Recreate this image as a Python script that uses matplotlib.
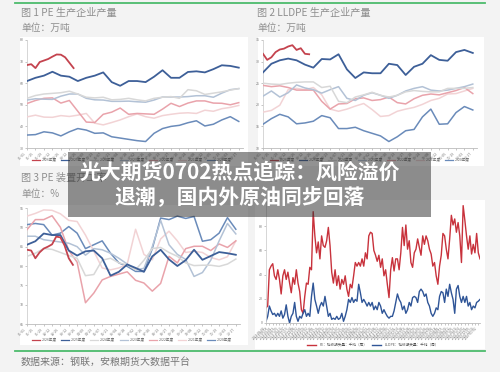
import numpy as np
import pandas as pd
import matplotlib
matplotlib.use('Agg')
import matplotlib.pyplot as plt
from matplotlib.patches import Rectangle
from matplotlib.lines import Line2D

plt.rcParams['font.family'] = ['Noto Sans CJK SC', 'DejaVu Sans']

# ---- data ----
years = ['2026年度', '2025年度', '2024年度', '2023年度', '2022年度', '2021年度', '2020年度']
year_colors = ['#c4434e', '#3d5f98', '#d8d8d8', '#b3c2d6', '#e9a3ab', '#f2d3d5', '#6a8bba']

weeks_full = list(range(1, 53, 2))      # biweekly points for full years
weeks_2026 = list(range(1, 13))          # 2026 weekly so far
week_labels = list(pd.date_range('2026-01-01', periods=26, freq='14D').strftime('%m-%d'))

# 图1 PE 生产企业产量 (万吨)
pe_out_2026 = [68.4, 68.8, 67.0, 69.8, 70.5, 71.2, 72.3, 73.3, 73.2, 72.0, 69.5, 67.0]
pe_out_2025 = [61.0, 62.5, 63.5, 65.3, 63.5, 63.0, 61.0, 62.5, 63.5, 65.0, 60.5, 58.8, 61.0,
               61.0, 60.5, 63.0, 66.0, 62.5, 62.5, 65.2, 65.5, 65.0, 66.5, 68.3, 68.0, 67.2]
pe_out_2024 = [53.0, 54.3, 55.0, 55.3, 55.6, 56.3, 55.0, 53.5, 53.2, 53.5, 52.3, 52.5, 53.0,
               52.3, 51.8, 53.0, 53.5, 53.8, 53.0, 57.0, 56.5, 54.8, 55.4, 56.0, 56.8, 57.5]
pe_out_2023 = [52.2, 52.8, 52.6, 52.5, 54.0, 55.0, 55.0, 53.0, 52.3, 52.2, 51.6, 51.6, 51.7,
               51.4, 51.2, 52.2, 53.6, 53.6, 53.6, 53.8, 54.2, 54.2, 53.5, 55.4, 57.0, 57.5]
pe_out_2022 = [50.6, 52.0, 53.0, 53.2, 50.8, 52.0, 47.0, 42.0, 41.8, 45.6, 46.6, 48.5, 45.6,
               46.0, 45.8, 45.6, 48.0, 50.7, 49.2, 50.8, 51.8, 51.8, 50.8, 50.7, 50.0, 51.0]
pe_out_2021 = [44.4, 45.2, 44.3, 44.2, 45.0, 44.6, 45.2, 46.0, 41.5, 40.7, 41.8, 43.0, 44.5,
               45.8, 44.5, 43.8, 45.0, 45.6, 46.1, 46.3, 46.0, 47.5, 47.0, 48.2, 48.8, 49.7]
pe_out_2020 = [36.0, 36.2, 37.5, 37.0, 35.6, 37.5, 39.0, 38.3, 36.8, 37.0, 35.2, 34.6, 34.0,
               33.4, 33.0, 36.8, 39.0, 40.0, 40.5, 41.7, 42.6, 40.2, 41.0, 43.0, 44.5, 42.3]

# 图2 LLDPE 生产企业产量 (万吨)
ll_out_2026 = [31.8, 30.4, 31.0, 32.2, 32.8, 33.0, 33.5, 33.8, 32.7, 33.1, 31.8, 31.7]
ll_out_2025 = [27.5, 29.5, 30.3, 30.7, 30.3, 29.3, 28.6, 30.6, 30.5, 31.7, 28.2, 26.2, 27.5,
               27.3, 27.3, 29.5, 29.2, 26.9, 28.8, 29.5, 31.5, 30.4, 30.2, 32.2, 32.7, 32.0]
ll_out_2024 = [25.0, 24.8, 24.7, 25.0, 25.2, 25.3, 25.3, 24.0, 24.3, 20.8, 20.5, 21.8, 22.3,
               22.9, 22.2, 21.8, 22.2, 23.0, 23.3, 23.1, 23.0, 23.0, 23.8, 23.8, 23.8, 24.0]
ll_out_2023 = [22.0, 23.2, 21.8, 22.8, 24.6, 23.9, 23.5, 22.7, 23.5, 24.2, 21.5, 21.0, 22.2,
               22.8, 22.2, 21.5, 22.2, 23.2, 23.8, 24.2, 23.4, 23.2, 23.4, 23.8, 24.2, 24.8]
ll_out_2022 = [24.5, 24.2, 24.4, 24.0, 23.4, 23.4, 23.4, 20.8, 19.0, 20.2, 20.3, 21.4, 21.6,
               21.0, 21.2, 21.8, 20.5, 20.2, 21.4, 22.2, 22.5, 22.3, 22.8, 23.3, 24.0, 22.6]
ll_out_2021 = [18.3, 18.7, 19.9, 23.5, 23.8, 23.5, 24.0, 22.3, 19.0, 18.5, 19.0, 19.7, 20.3,
               18.9, 17.3, 17.5, 18.5, 19.0, 19.4, 20.1, 21.0, 21.5, 22.5, 22.6, 23.2, 23.8]
ll_out_2020 = [15.5, 16.8, 17.8, 17.2, 15.6, 15.8, 16.2, 17.5, 17.0, 14.5, 14.5, 14.8, 14.0,
               13.4, 12.8, 11.5, 12.6, 14.0, 14.3, 17.2, 19.0, 15.5, 15.6, 18.2, 19.6, 18.8]

# 图3 PE 装置开工率 (%)
pe_run_2026 = [84.2, 84.0, 82.0, 83.5, 84.5, 85.0, 85.6, 87.6, 87.4, 85.3, 82.0, 80.3]
pe_run_2025 = [85.5, 86.4, 88.4, 88.0, 88.0, 84.0, 82.7, 83.8, 84.0, 82.0, 77.5, 78.5, 80.4,
               79.5, 78.5, 82.5, 84.2, 81.7, 80.0, 81.5, 84.2, 81.6, 82.6, 83.6, 83.3, 82.9]
pe_run_2024 = [82.5, 83.3, 84.5, 84.3, 83.5, 82.7, 82.0, 77.5, 77.8, 81.5, 82.0, 80.8, 80.3,
               79.0, 81.5, 84.5, 84.8, 83.5, 82.5, 80.8, 80.1, 80.2, 80.2, 79.9, 80.5, 81.8]
pe_run_2023 = [87.7, 87.7, 86.8, 86.5, 86.2, 85.9, 85.0, 82.8, 84.5, 84.2, 83.3, 82.0, 80.5,
               79.0, 79.4, 85.0, 91.8, 85.5, 83.0, 81.7, 77.3, 78.3, 81.5, 86.5, 91.0, 88.3]
pe_run_2022 = [89.4, 92.0, 92.0, 93.0, 90.0, 84.0, 81.0, 70.5, 73.0, 76.4, 77.3, 77.9, 78.5,
               76.3, 75.6, 73.5, 75.5, 82.5, 80.8, 84.5, 85.1, 85.1, 84.0, 85.7, 84.8, 86.5]
pe_run_2021 = [92.9, 93.6, 94.5, 94.4, 93.5, 91.8, 91.5, 88.0, 83.8, 79.5, 79.0, 79.5, 80.5,
               89.5, 83.0, 81.6, 87.0, 89.0, 86.5, 83.5, 83.8, 83.5, 82.2, 81.6, 82.4, 86.5]
pe_run_2020 = [90.7, 91.0, 90.7, 88.0, 88.5, 90.2, 88.5, 84.5, 85.5, 86.5, 83.3, 80.8, 79.9,
               78.6, 78.6, 84.5, 92.4, 92.0, 92.9, 92.3, 92.8, 86.4, 86.8, 88.5, 92.5, 89.5]

# 图4 检修损失量 (千吨/周)
loss_dates = pd.date_range('2023-08-04', periods=128, freq='7D')
pe_loss = [12.5, 14, 44, 47, 49, 39, 36, 44, 36, 24, 39, 44, 36, 42, 33, 25,
           37.5, 32, 44, 33, 26, 11, 8, 22, 33, 32, 46, 44, 92, 72, 58, 67,
           53, 72, 64, 62.5, 68, 79, 64, 42, 33, 44, 31, 39, 28, 36, 32, 39,
           28, 22, 32, 29, 39, 50, 47, 50, 47, 53, 47, 58, 53, 72, 75, 74,
           60, 56, 51, 56, 46, 53, 39, 44, 32, 21, 44, 54, 43, 53, 53, 44,
           58, 79, 64, 81, 61, 68, 50, 46, 58, 61, 69.5, 62.5, 56, 72, 65, 72,
           68, 61, 57, 47, 50, 39, 32, 47, 56, 74, 72, 61, 53, 69.5, 89, 81,
           86, 75, 83, 72, 50, 97, 85, 72, 61, 72, 57, 65, 58, 74, 58, 53]
lldpe_loss = [1.4, 5.5, 14, 10, 7, 8, 5.5, 8, 5.5, 10, 4, 7, 15, 5.5, 0, 5.5,
              8, 17, 5.5, 1.4, 5.5, 4, 8, 11, 5.5, 8, 5.5, 22, 33, 19.5, 14, 8,
              14, 17, 14, 22, 14, 5.5, 8, 3, 4, 3, 5.5, 3, 4, 8, 1.4, 5.5,
              11, 19.5, 17, 21, 17, 19.5, 18, 32, 25, 17, 19.5, 17, 14, 17, 14, 17,
              11, 14, 11, 17, 14, 8, 11, 8, 5.5, 4, 5.5, 5.5, 10, 17, 24, 19.5,
              17, 11, 14, 8, 11, 17, 14, 21, 22, 21, 17, 26, 28, 26, 22, 24,
              17, 14, 8, 5.5, 8, 12.5, 11, 22, 26, 25, 17, 28, 22, 32, 25, 19.5,
              8, 28, 31, 22, 17, 22, 17, 22, 14, 17, 11, 14, 12.5, 17, 18, 19.5]

W, H = 500, 372
fig = plt.figure(figsize=(W / 100, H / 100), dpi=100, facecolor='#f3f3f3')


def fbox(l, t, r, b):
    return [l / W, 1 - b / H, (r - l) / W, (b - t) / H]


def white(l, t, r, b):
    fig.patches.append(Rectangle((l / W, 1 - b / H), (r - l) / W, (b - t) / H,
                                 transform=fig.transFigure, facecolor='white',
                                 edgecolor='none', zorder=-1))


def style(ax):
    ax.set_facecolor('none')
    for s in ['top', 'right']:
        ax.spines[s].set_visible(False)
    ax.spines['left'].set_color('#d0d0d0')
    ax.spines['bottom'].set_color('#bbbbbb')
    ax.spines['left'].set_linewidth(0.6)
    ax.spines['bottom'].set_linewidth(0.6)
    ax.tick_params(axis='both', labelsize=2.6, colors='#999999', length=1.2, width=0.4,
                   pad=1, labelcolor='#777777')


def year_panel(box, series_full, s2026, ylim, yticks):
    ax = fig.add_axes(fbox(*box))
    style(ax)
    for i, (name, col) in enumerate(zip(years, year_colors)):
        if i == 0:
            ax.plot(weeks_2026, s2026, color=col, lw=1.3, zorder=10)
        else:
            lw = 1.3 if i == 1 else 1.1
            ax.plot(weeks_full, series_full[i - 1], color=col, lw=lw, zorder=10 - i)
    ax.set_xlim(1, 52)
    ax.set_ylim(*ylim)
    ax.set_yticks(yticks)
    ax.set_xticks(weeks_full)
    ax.set_xticklabels(week_labels, rotation=45, ha='right', fontsize=2.6)
    return ax


def year_legend(x, y):
    handles = [Line2D([], [], color=c, lw=0.9) for c in year_colors]
    fig.legend(handles, years, loc='center', bbox_to_anchor=(x / W, 1 - y / H), ncol=7,
               fontsize=2.6, frameon=False, handlelength=2.2, columnspacing=1.2,
               handletextpad=0.5, labelcolor='#666666')


# panel backgrounds
white(20, 37, 248, 166)
white(258, 37, 484, 166)
white(20, 205, 248, 345)
white(255, 200, 485, 349)

# green rules
fig.add_artist(Line2D([15 / W, 485 / W], [1 - 3 / H, 1 - 3 / H], color='#4cbb6c', lw=1.3))
fig.add_artist(Line2D([15 / W, 485 / W], [1 - 351 / H, 1 - 351 / H], color='#4cbb6c', lw=1.3))

# titles
tkw = dict(color='#8f8f8f', va='center', ha='left')
fig.text(21 / W, 1 - 13 / H, '图 1 PE 生产企业产量', fontsize=7.3, **tkw)
fig.text(21 / W, 1 - 28 / H, '单位：万吨', fontsize=7, **tkw)
fig.text(257 / W, 1 - 13 / H, '图 2 LLDPE 生产企业产量', fontsize=7.3, **tkw)
fig.text(257 / W, 1 - 28 / H, '单位：万吨', fontsize=7, **tkw)
fig.text(21 / W, 1 - 178 / H, '图 3 PE 装置开工率', fontsize=7.3, **tkw)
fig.text(21 / W, 1 - 194 / H, '单位：%', fontsize=7, **tkw)
fig.text(21 / W, 1 - 362 / H, '数据来源：钢联，安粮期货大数据平台', fontsize=7.2,
         color='#777777', va='center', ha='left')

# panel 1
year_panel((27, 40, 243, 148),
           [pe_out_2025, pe_out_2024, pe_out_2023, pe_out_2022, pe_out_2021, pe_out_2020],
           pe_out_2026, (30, 80), [30, 40, 50, 60, 70, 80])
year_legend(132, 160)

# panel 2
year_panel((263, 40, 477, 148),
           [ll_out_2025, ll_out_2024, ll_out_2023, ll_out_2022, ll_out_2021, ll_out_2020],
           ll_out_2026, (10, 35), [10, 15, 20, 25, 30, 35])
year_legend(370, 160)

# panel 3
year_panel((27, 208, 240, 324),
           [pe_run_2025, pe_run_2024, pe_run_2023, pe_run_2022, pe_run_2021, pe_run_2020],
           pe_run_2026, (65, 95), [65, 70, 75, 80, 85, 90, 95])
year_legend(132, 340)

# panel 4
ax4 = fig.add_axes(fbox(266, 202, 480, 323))
style(ax4)
idx = np.arange(len(pe_loss))
ax4.plot(idx, pe_loss, color='#c8323c', lw=1.0, label='PE：检修损失量：千吨（周）')
ax4.plot(idx, lldpe_loss, color='#2f5597', lw=1.0, label='LLDPE：检修损失量：千吨（周）')
ax4.set_xlim(0, len(pe_loss) - 1)
ax4.set_ylim(0, 100)
ax4.set_yticks([0, 20, 40, 60, 80])
ax4.set_xticks(idx[::2])
ax4.set_xticklabels(loss_dates[::2].strftime('%Y-%m-%d'), rotation=45, ha='right', fontsize=2.3)
ax4.legend(loc='center', bbox_to_anchor=(0.5, (1 - 345 / H - (1 - 323 / H)) / (121 / H)),
           ncol=2, fontsize=2.6, frameon=False, handlelength=2.5, columnspacing=1.5,
           labelcolor='#555555')

# headline overlay
fig.patches.append(Rectangle((68 / W, 1 - 217 / H), (431 - 68) / W, (217 - 152) / H,
                             transform=fig.transFigure, facecolor='#2e2e2e', alpha=0.52,
                             edgecolor='none', zorder=20))
fig.text(240 / W, 1 - 172 / H, '光大期货0702热点追踪：风险溢价', fontsize=15,
         fontweight='bold', color='white', ha='center', va='center', zorder=21)
fig.text(240 / W, 1 - 197 / H, '退潮，国内外原油同步回落', fontsize=15,
         fontweight='bold', color='white', ha='center', va='center', zorder=21)

fig.savefig('out.png', dpi=100, facecolor=fig.get_facecolor())
